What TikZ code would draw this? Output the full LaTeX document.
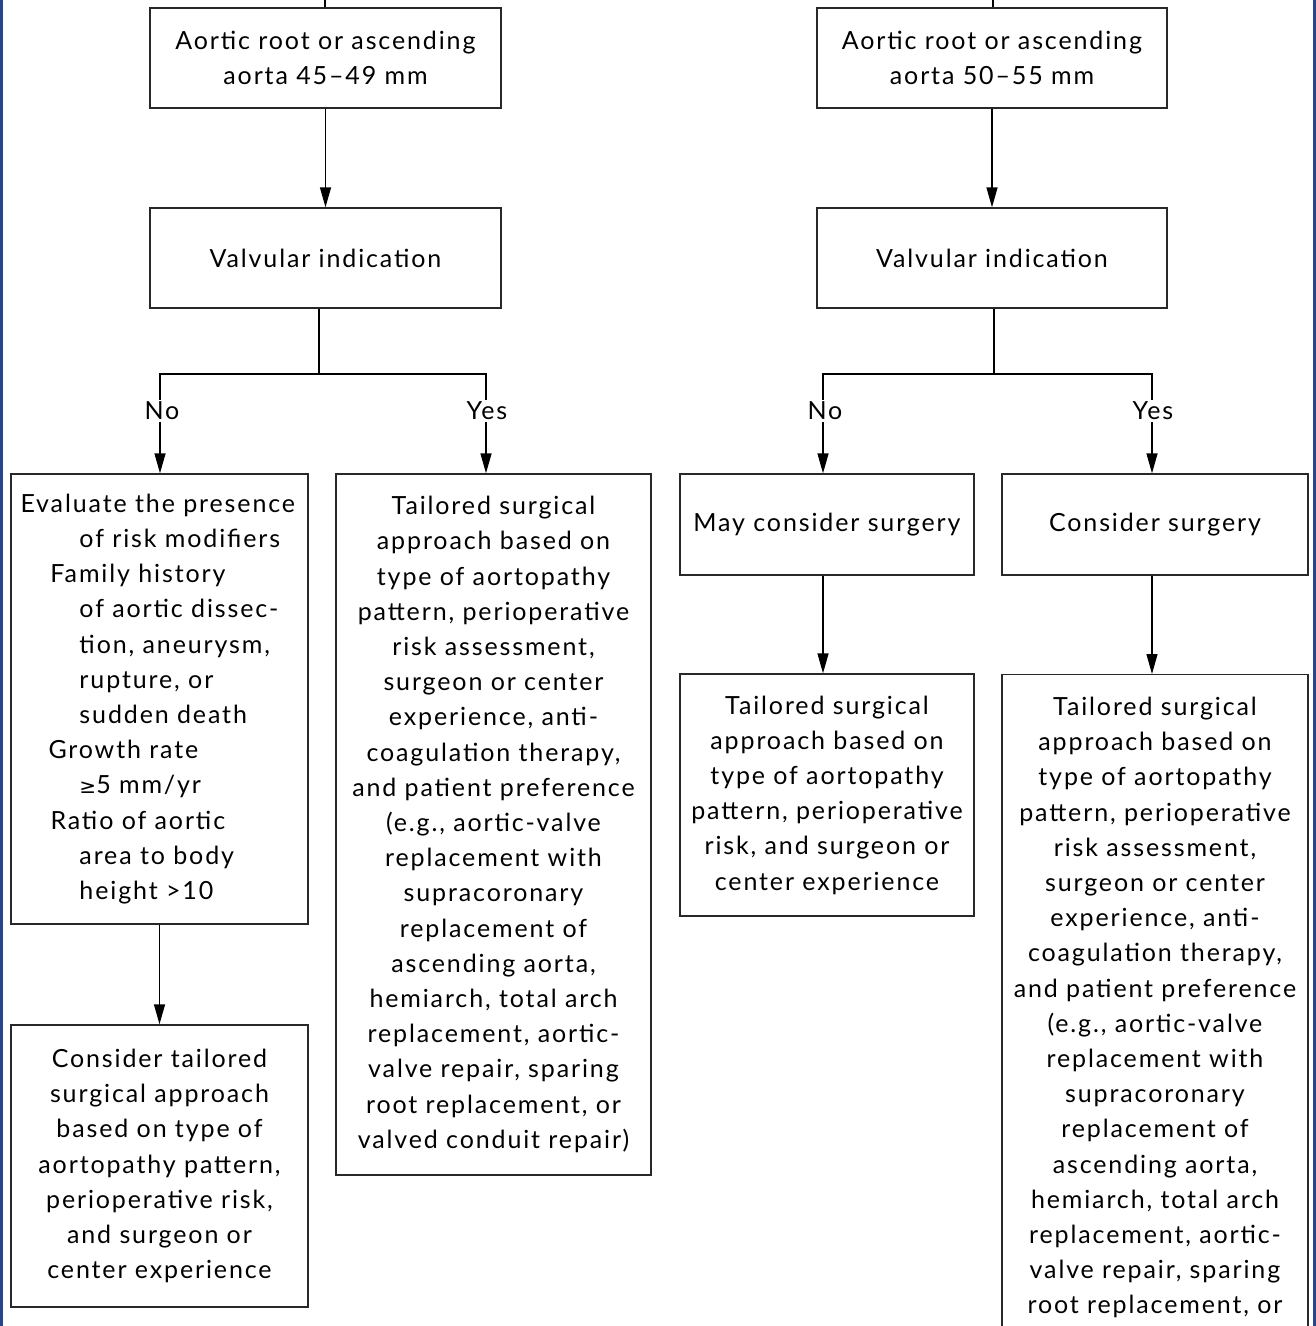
\documentclass[tikz,border=0pt]{standalone}
\usepackage{fontspec}
\setmainfont{Lato}[LetterSpace=7.5]
\newfontfamily\symfnt{DejaVu Sans}
\usetikzlibrary{arrows.meta}
\definecolor{edgeblue}{RGB}{40,70,140}
\definecolor{boxline}{RGB}{40,40,40}
\tikzset{
  bx/.style={draw=boxline, line width=1.4pt, align=center, inner sep=0pt,
    font=\fontsize{25}{35.2}\selectfont},
  lbl/.style={inner sep=2pt, font=\fontsize{25}{35.2}\selectfont},
  arr/.style={line width=1.4pt, draw=black, -{Triangle[length=20pt,width=11pt]}},
  ln/.style={line width=1.4pt, draw=black},
}
\begin{document}
\begin{tikzpicture}[x=1pt,y=-1pt]
\useasboundingbox (0,0) rectangle (1316,1326);
\clip (0,0) rectangle (1316,1326);
\fill[white] (0,0) rectangle (1316,1326);
% left column
\node[bx, minimum width=351, minimum height=100] (a1) at (325.5,58) {Aortic root or ascending\\aorta 45--49 mm};
\node[bx, minimum width=351, minimum height=100] (b1) at (325.5,258) {Valvular indication};
\node[lbl] (no1) at (162,411) {No};
\node[lbl] (yes1) at (487,411) {Yes};
\node[bx, minimum width=297, minimum height=450, text width=290, align=left] (c1) at (159.5,699) {%
\hspace*{6pt}Evaluate the presence\\
\hspace*{65pt}of risk modifiers\\
\hspace*{36pt}Family history\\
\hspace*{65pt}of aortic dissec-\\
\hspace*{65pt}tion, aneurysm,\\
\hspace*{65pt}rupture, or\\
\hspace*{65pt}sudden death\\
\hspace*{34pt}Growth rate\\
\hspace*{65pt}{\symfnt\fontsize{20}{35.2}\selectfont ≥}5 mm/yr\\
\hspace*{36pt}Ratio of aortic\\
\hspace*{65pt}area to body\\
\hspace*{65pt}height >10};
\node[bx, minimum width=315, minimum height=701] (c2) at (493.5,824.5) {Tailored surgical\\approach based on\\type of aortopathy\\pattern, perioperative\\risk assessment,\\surgeon or center\\experience, anti-\\coagulation therapy,\\and patient preference\\(e.g., aortic-valve\\replacement with\\supracoronary\\replacement of\\ascending aorta,\\hemiarch, total arch\\replacement, aortic-\\valve repair, sparing\\root replacement, or\\valved conduit repair)};
\node[bx, minimum width=297, minimum height=282] (d1) at (159.5,1166) {Consider tailored\\surgical approach\\based on type of\\aortopathy pattern,\\perioperative risk,\\and surgeon or\\center experience};
% right column
\node[bx, minimum width=350, minimum height=100] (a2) at (992,58) {Aortic root or ascending\\aorta 50--55 mm};
\node[bx, minimum width=350, minimum height=100] (b2) at (992,258) {Valvular indication};
\node[lbl] (no2) at (825,411) {No};
\node[lbl] (yes2) at (1153,411) {Yes};
\node[bx, minimum width=294, minimum height=101] (c3) at (827,524.5) {May consider surgery};
\node[bx, minimum width=306, minimum height=101] (c4) at (1155,524.5) {Consider surgery};
\node[bx, minimum width=294, minimum height=242] (d3) at (827,795) {Tailored surgical\\approach based on\\type of aortopathy\\pattern, perioperative\\risk, and surgeon or\\center experience};
\node[bx, minimum width=306, minimum height=701, anchor=north] (d4) at (1155,674) {Tailored surgical\\approach based on\\type of aortopathy\\pattern, perioperative\\risk assessment,\\surgeon or center\\experience, anti-\\coagulation therapy,\\and patient preference\\(e.g., aortic-valve\\replacement with\\supracoronary\\replacement of\\ascending aorta,\\hemiarch, total arch\\replacement, aortic-\\valve repair, sparing\\root replacement, or\\valved conduit repair)};
% connectors
\coordinate (t1) at (325,0);
\coordinate (t2) at (993,0);
\draw[ln] (t1) -- (t1 |- a1.north);
\draw[ln] (t2) -- (t2 |- a2.north);
\draw[arr] (a1.south) -- (b1.north);
\draw[arr] (a2.south) -- (b2.north);
\coordinate (j1) at (319,374);
\coordinate (j2) at (994,374);
\draw[ln] (j1 |- b1.south) -- (j1);
\draw[ln] (j2 |- b2.south) -- (j2);
\draw[ln] ([xshift=-2pt]no1.north) |- (j1) -| ([xshift=-1pt]yes1.north);
\draw[ln] ([xshift=-2pt]no2.north) |- (j2) -| ([xshift=-1pt]yes2.north);
\draw[arr] ([xshift=-2pt]no1.south) -- ([xshift=-2pt]no1.south |- c1.north);
\draw[arr] ([xshift=-1pt]yes1.south) -- ([xshift=-1pt]yes1.south |- c2.north);
\draw[arr] ([xshift=-2pt]no2.south) -- ([xshift=-2pt]no2.south |- c3.north);
\draw[arr] ([xshift=-1pt]yes2.south) -- ([xshift=-1pt]yes2.south |- c4.north);
\draw[arr] (c1.south) -- (d1.north);
\draw[arr] ([xshift=-4pt]c3.south) -- ([xshift=-4pt]d3.north);
\draw[arr] ([xshift=-3pt]c4.south) -- ([xshift=-3pt]d4.north);
% page edges
\fill[edgeblue] (0,0) rectangle (2.5,1326);
\fill[edgeblue] (1313,0) rectangle (1316,1326);
\end{tikzpicture}
\end{document}
